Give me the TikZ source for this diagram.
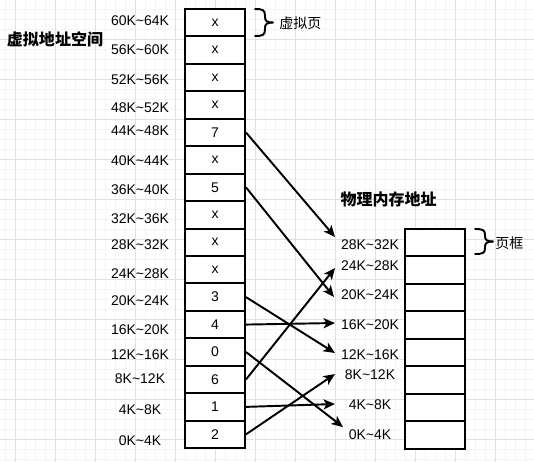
\documentclass[tikz,border=0pt]{standalone}
\usepackage{fontspec}
\setmainfont{Liberation Sans}
\newfontfamily\cjk{Noto Sans CJK SC}
\usetikzlibrary{arrows.meta}
\definecolor{gridminor}{HTML}{F4F4F4}
\definecolor{gridmajor}{HTML}{E0E0E0}
\begin{document}
\begin{tikzpicture}[x=0.75pt,y=-0.75pt,
  cell/.style={draw=black,line width=1.5pt,fill=white,minimum width=45pt,minimum height=20.58pt,inner sep=0pt,font=\fontsize{10.5}{12}\selectfont},
  lab/.style={inner sep=0pt,font=\fontsize{10.5}{12}\selectfont},
  title/.style={inner sep=0pt,font=\cjk\bfseries\fontsize{12}{14}\selectfont},
  note/.style={inner sep=0pt,anchor=west,font=\cjk\fontsize{10.5}{12}\selectfont},
  map/.style={line width=1.45pt,-{Stealth[length=8.6pt,width=7.5pt,inset=2.2pt]}},
  bracestyle/.style={line width=1.45pt,line cap=round,line join=round},
  minorline/.style={gridminor,line width=0.75pt},
  majorline/.style={gridmajor,line width=0.75pt}]
\fill[white] (0,0) rectangle (534,462);
\useasboundingbox (0,0) rectangle (534,462);
% grid
\foreach \x in {5,15,...,525} \draw[minorline] (\x,0) -- (\x,462);
\foreach \y in {9.3,19.3,...,459.3} \draw[minorline] (0,\y) -- (534,\y);
\foreach \x in {15,55,...,495} \draw[majorline] (\x,0) -- (\x,462);
\foreach \y in {39.3,79.3,...,439.3} \draw[majorline] (0,\y) -- (534,\y);

% titles
\node[title] (vtitle) at (55,39) {虚拟地址空间};
\node[title] (ptitle) at (388.5,199) {物理内存地址};

% virtual pages
\foreach \i/\t in {0/x,1/x,2/x,3/x,4/7,5/x,6/5,7/x,8/x,9/x,10/3,11/4,12/0,13/6,14/1,15/2}
  \node[cell] (v\i) at (215,{9+27.44*(\i+0.5)}) {\t};

% virtual labels
\foreach \i/\y/\t in {0/20.7/60K\textasciitilde64K,1/50/56K\textasciitilde60K,2/80/52K\textasciitilde56K,3/108/48K\textasciitilde52K,
  4/130.5/44K\textasciitilde48K,5/160.5/40K\textasciitilde44K,6/190/36K\textasciitilde40K,7/219/32K\textasciitilde36K,
  8/245/28K\textasciitilde32K,9/274/24K\textasciitilde28K,10/300.5/20K\textasciitilde24K,11/330/16K\textasciitilde20K,
  12/355/12K\textasciitilde16K,13/379/8K\textasciitilde12K,14/410/4K\textasciitilde8K,15/440.5/0K\textasciitilde4K}
  \node[lab] (l\i) at (140,\y) {\t};

% physical frames
\foreach \i in {0,...,7}
  \node[cell,minimum height=20.6pt] (p\i) at (435,{229+27.46*(\i+0.5)}) {};

% physical labels
\foreach \i/\y/\t in {0/245/28K\textasciitilde32K,1/265.7/24K\textasciitilde28K,2/295/20K\textasciitilde24K,3/325/16K\textasciitilde20K,
  4/355/12K\textasciitilde16K,5/375/8K\textasciitilde12K,6/405/4K\textasciitilde8K,7/435/0K\textasciitilde4K}
  \node[lab] (r\i) at (370,\y) {\t};

% arrow targets
\coordinate (t28) at (335,237);
\coordinate (t24) at (335,268);
\coordinate (t20) at (334,297);
\coordinate (t16) at (335,323);
\coordinate (t12) at (335,353);
\coordinate (t8) at (335,374);
\coordinate (t4) at (335,404);
\coordinate (t0) at (343,427);

\draw[map] (v4.east) -- (t28);
\draw[map] (v6.east) -- (t20);
\draw[map] (v10.east) -- (t12);
\draw[map] (v11.east) -- (t16);
\draw[map] (v12.east) -- (t0);
\draw[map] (v13.east) -- (t24);
\draw[map] (v14.east) -- (t4);
\draw[map] (v15.east) -- (t8);

% braces
\draw[bracestyle] (255,9) .. controls (263,9) and (265,10) .. (265,16) -- (265,17)
  .. controls (265,21) and (267,22.5) .. (273,22.5);
\draw[bracestyle] (255,36) .. controls (263,36) and (265,35) .. (265,29) -- (265,28)
  .. controls (265,24) and (267,22.5) .. (273,22.5);
\node[note] (vpage) at (279,23) {虚拟页};

\draw[bracestyle] (475,229) .. controls (483,229) and (485,230) .. (485,235) -- (485,236)
  .. controls (485,240) and (487,241.5) .. (493,241.5);
\draw[bracestyle] (475,254) .. controls (483,254) and (485,253) .. (485,248) -- (485,247)
  .. controls (485,243) and (487,241.5) .. (493,241.5);
\node[note] (pframe) at (495,243) {页框};
\end{tikzpicture}
\end{document}
